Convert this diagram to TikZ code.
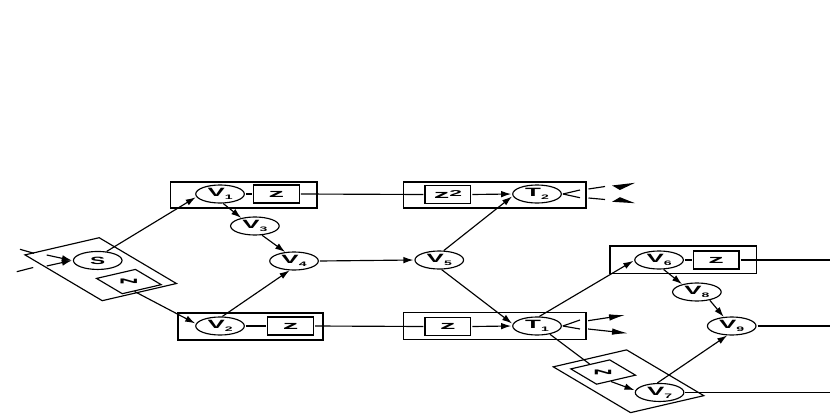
\documentclass[tikz,border=0pt]{standalone}
\usepackage{fontspec}
\setmainfont{Liberation Sans}
\newfontfamily\cfont{Liberation Sans}[FakeStretch=0.8]
\usetikzlibrary{arrows.meta}
\newcommand\vl[2]{{\cfont\bfseries\fontsize{12}{12}\selectfont #1\raisebox{-3pt}{\fontsize{6.5}{6.5}\selectfont #2}}}
\newcommand\slab{{\cfont\bfseries\fontsize{10.5}{10.5}\selectfont S}}
\newcommand\zl{{\bfseries\fontsize{11.5}{11.5}\selectfont z}}
\newcommand\zrot{\rotatebox{-32}{\bfseries\fontsize{11.5}{11.5}\selectfont z}}
\newcommand\zsq{{\bfseries\fontsize{11.5}{11.5}\selectfont z\raisebox{2.5pt}{\fontsize{8.5}{8.5}\selectfont 2}}}
\tikzset{
  circ/.style={circle, draw, minimum size=18pt, inner sep=0pt, transform shape},
  zbox/.style={rectangle, draw, minimum width=17pt, minimum height=18pt, inner sep=0pt, transform shape},
  blk/.style={rectangle, draw, inner sep=0pt, transform shape},
  arr/.style={-{Latex[length=10pt,width=6.5pt]}},
  longarr/.style={-{Latex[length=16pt,width=6.5pt]}},
}
\begin{document}
\begin{tikzpicture}[x=1pt,y=-1pt,line width=1.15pt]
\useasboundingbox (0,0) rectangle (830,415);
\begin{scope}[xscale=2.7]
\coordinate (xr) at (307.4,0);
% enclosing boxes
\node[blk, minimum width=54.4pt, minimum height=26pt] (B1) at (90.2,195) {};
\node[blk, minimum width=53.7pt, minimum height=27pt] (B2) at (92.8,326.5) {};
\node[blk, minimum width=67.7pt, minimum height=26pt] (B3) at (183.2,195) {};
\node[blk, minimum width=67.7pt, minimum height=26.6pt] (B4) at (183.2,326) {};
\node[blk, minimum width=54.3pt, minimum height=27.3pt] (B5) at (253.1,259.7) {};
% nodes
\node[circ] (V1) at (81.5,194) {\vl{V}{1}};
\node[zbox] (Z1) at (102.4,194) {\zl};
\node[circ] (V3) at (94.4,226) {\vl{V}{3}};
\node[circ] (V4) at (108.9,261) {\vl{V}{4}};
\node[circ] (V2) at (81.5,326) {\vl{V}{2}};
\node[zbox] (Z2) at (107.6,326) {\zl};
\node[circ] (V5) at (162.7,260) {\vl{V}{5}};
\node[zbox] (Zsq) at (165.9,194.5) {\zsq};
\node[circ] (T2) at (198.9,194) {\vl{T}{2}};
\node[zbox] (Zb) at (165.9,326.5) {\zl};
\node[circ] (T1) at (198.9,326) {\vl{T}{1}};
\node[circ] (V6) at (244.1,260) {\vl{V}{6}};
\node[zbox] (Z6) at (265.2,260) {\zl};
\node[circ] (V8) at (258.1,292) {\vl{V}{8}};
\node[circ] (V9) at (271,326) {\vl{V}{9}};
% rotated source block
\begin{scope}[shift={(37.3,269.2)}, rotate=-58]
\node[blk, minimum width=54pt, minimum height=32.4pt] (BS) at (0,0) {};
\node[circ, rotate=58] (S) at (-8,-3.7) {\slab};
\node[zbox, minimum width=18pt, minimum height=17pt] (N) at (16,-2.3) {\zrot};
\end{scope}
% rotated V7 block
\begin{scope}[shift={(232.8,381.25)}, rotate=-58]
\node[blk, minimum width=54pt, minimum height=32pt] (BV) at (0,0) {};
\node[zbox, minimum width=18pt, minimum height=17pt] (Zv) at (-12.8,3.1) {\zrot};
\node[circ, rotate=58] (V7) at (15.6,-3.8) {\vl{V}{7}};
\end{scope}
% connectors
\draw[arr] (S.70) -- (V1.200);
\draw[arr] (N.-20) -- (V2.164);
\draw[arr] (V1.-83) -- (V3.122);
\draw[arr] (V3.-74) -- (V4.110);
\draw[arr] (V2.85) -- (V4.-100);
\draw[arr] (V4.east) -- (V5.west);
\draw (V1.east) -- (Z1.west);
\draw (Z1.east) -- (Zsq.west);
\draw (V2.east) -- (Z2.west);
\draw (Z2.east) -- (Zb.west);
\draw[arr] (Zsq.east) -- (T2.west);
\draw[arr] (Zb.east) -- (T1.west);
\draw[arr] (V5.80) -- (T2.195);
\draw[arr] (V5.-85) -- (T1.165);
\draw[arr] (T1.85) -- (V6.185);
\draw (T1.-60) -- (Zv.west);
\draw[arr] (Zv.-15) -- (V7.166);
\draw[arr] (V7.95) -- (V9.-100);
\draw[arr] (V6.-80) -- (V8.125);
\draw[arr] (V8.-60) -- (V9.108);
\draw (V6.east) -- (Z6.west);
\draw (Z6.east) -- (Z6.east -| xr);
\draw (V9.east) -- (V9.east -| xr);
\draw (V7.east) -- (V7.east -| xr);
% inputs of S
\coordinate (si1) at (7.4,249.3);
\coordinate (si2) at (12.6,253.3);
\coordinate (si3) at (17.3,255);
\coordinate (si4) at (6.2,271.7);
\coordinate (si5) at (12.3,267.5);
\coordinate (si6) at (17.3,266);
\draw (si1) -- (si2);
\draw[arr] (si3) -- (S.west);
\draw (si4) -- (si5);
\draw[arr] (si6) -- (S.west);
% outputs of T2
\coordinate (ta1) at (214.8,190);
\coordinate (ta2) at (214.8,197.7);
\coordinate (ta3) at (217.96,189);
\coordinate (ta4) at (224.07,186.5);
\coordinate (ta5) at (217.96,198);
\coordinate (ta6) at (224.07,199.5);
\draw (T2.east) -- (ta1);
\draw (T2.east) -- (ta2);
\draw (ta3) -- (ta4);
\draw (ta5) -- (ta6);
\fill (226.7,185.5) -- (235.2,182.8) -- (229.6,190) -- cycle;
\fill (226.7,201.8) -- (235.2,203.2) -- (229.6,197.2) -- cycle;
% outputs of T1
\coordinate (tb1) at (214.8,320);
\coordinate (tb2) at (214.8,329);
\coordinate (tb3) at (217.8,320.7);
\coordinate (tb4) at (231.5,315);
\coordinate (tb5) at (217.8,329);
\coordinate (tb6) at (232.6,333.3);
\draw (T1.east) -- (tb1);
\draw (T1.east) -- (tb2);
\draw[longarr] (tb3) -- (tb4);
\draw[longarr] (tb5) -- (tb6);
\end{scope}
\end{tikzpicture}
\end{document}
